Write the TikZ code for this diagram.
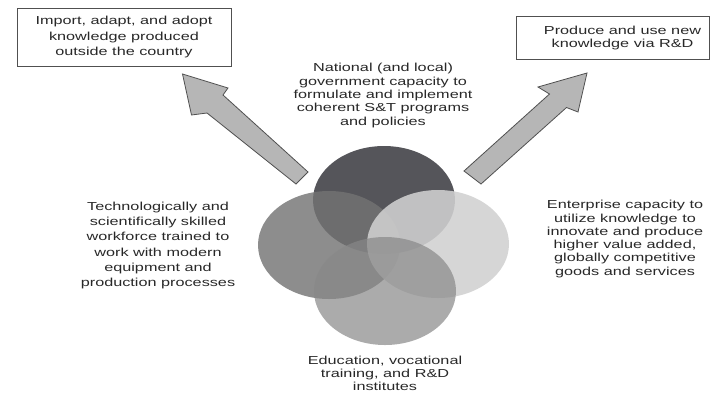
\documentclass[tikz,border=0pt]{standalone}
\usepackage{fontspec}
\newfontfamily\lab{Liberation Sans}[FakeStretch=1.4]
\usetikzlibrary{shapes.geometric}
\definecolor{ctop}{RGB}{85,85,90}
\definecolor{cleft}{RGB}{115,115,115}
\definecolor{cright}{RGB}{209,209,209}
\definecolor{cbot}{RGB}{136,136,136}
\definecolor{arrfill}{RGB}{182,182,182}
\definecolor{arrline}{RGB}{80,80,80}
\definecolor{txt}{RGB}{40,40,40}
\begin{document}
\begin{tikzpicture}[x=1pt,y=-1pt,
  lbl/.style={font=\lab\fontsize{11.6}{13.3}\selectfont, text=txt, align=center, inner sep=0pt},
  lblwide/.style={font=\lab\fontsize{11.6}{15.2}\selectfont, text=txt, align=center, inner sep=0pt},
  boxn/.style={draw=arrline, line width=1pt, fill=white, inner sep=0pt},
  blob/.style={ellipse, minimum width=142pt, minimum height=108pt, inner sep=0pt, draw=none},
  bigarrow/.style={fill=arrfill, draw=arrline, line width=0.8pt, line join=miter}]
\useasboundingbox[fill=white] (0,0) rectangle (711,400);

% Venn blobs
\node[blob, fill=ctop] (gov) at (384,200) {};
\node[blob, fill=cleft, fill opacity=0.81] (work) at (329,245) {};
\node[blob, fill=cright, fill opacity=0.88] (ent) at (438,244) {};
\node[blob, fill=cbot, fill opacity=0.7] (edu) at (385,291) {};

% boxes
\node[boxn, lblwide, minimum width=214pt, minimum height=58pt] (imp) at (124,37)
  {Import, adapt, and adopt\\knowledge produced\\outside the country};
\node[boxn, lbl, minimum width=193pt, minimum height=43pt] (rd) at (613,38)
  {\hspace*{19pt}Produce and use new\\\hspace*{19pt}knowledge via R\&D};

% left block arrow
\coordinate (la1) at (182.5,74);
\coordinate (la2) at (228,88);
\coordinate (la3) at (223,95);
\coordinate (la4) at (308,172);
\coordinate (la5) at (296,184);
\coordinate (la6) at (207,113);
\coordinate (la7) at (191.5,115);
\draw[bigarrow] (la1) -- (la2) -- (la3) -- (la4) -- (la5) -- (la6) -- (la7) -- cycle;

% right block arrow
\coordinate (ra1) at (587,73);
\coordinate (ra2) at (538,87);
\coordinate (ra3) at (549.5,94);
\coordinate (ra4) at (464,171);
\coordinate (ra5) at (481,184);
\coordinate (ra6) at (566.5,107.5);
\coordinate (ra7) at (578,112);
\draw[bigarrow] (ra1) -- (ra2) -- (ra3) -- (ra4) -- (ra5) -- (ra6) -- (ra7) -- cycle;

% labels
\node[lbl] (govt) at (383,95.5)
  {National (and local)\\government capacity to\\formulate and implement\\coherent S\&T programs\\and policies};
\node[lblwide] (workt) at (158,245.5)
  {Technologically and\\scientifically skilled\\workforce trained to\\work with modern\\equipment and\\production processes};
\node[lbl] (entt) at (625,239)
  {Enterprise capacity to\\utilize knowledge to\\innovate and produce\\higher value added,\\globally competitive\\goods and services};
\node[lbl] (edut) at (385,373.5)
  {Education, vocational\\training, and R\&D\\institutes};
\end{tikzpicture}
\end{document}
